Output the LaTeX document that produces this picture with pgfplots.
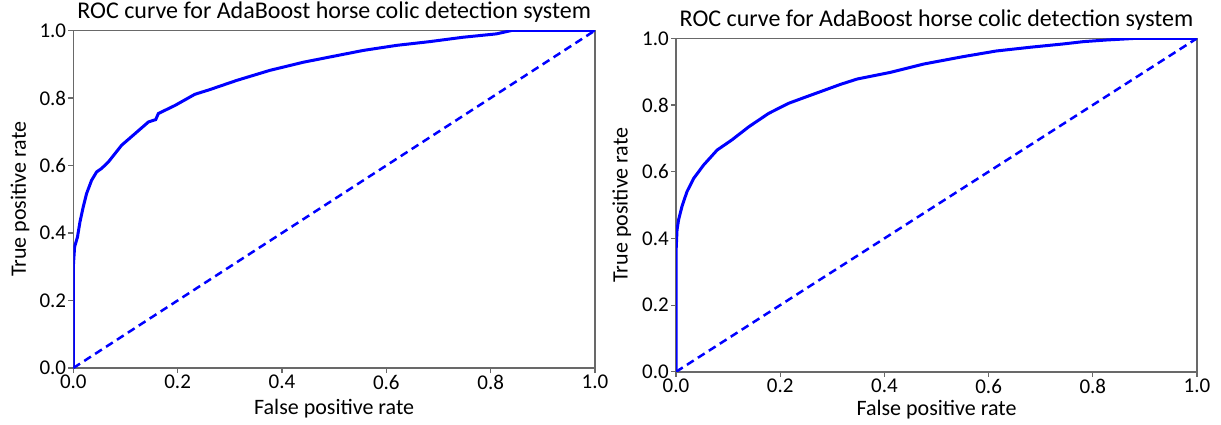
\documentclass[border=0pt]{standalone}
\usepackage{fontspec}
\setmainfont{Carlito}
\usepackage{pgfplots}
\pgfplotsset{compat=1.18}
\definecolor{framegray}{RGB}{105,105,105}
\definecolor{rocblue}{RGB}{0,0,255}

\pgfplotsset{
  rocaxis/.style={
    scale only axis,
    anchor=south west,
    xmin=0,xmax=1,ymin=0,ymax=1,
    xtick={0,0.2,...,1.0},
    ytick={0,0.2,...,1.0},
    xticklabel style={/pgf/number format/.cd,fixed,fixed zerofill,precision=1},
    yticklabel style={/pgf/number format/.cd,fixed,fixed zerofill,precision=1},
    /pgf/number format/assume math mode=true,
    tick align=outside,
    major tick length=5pt,
    xtick pos=bottom, ytick pos=left,
    axis line style={framegray,line width=1.5pt},
    every tick/.style={framegray,line width=1.2pt},
    tick label style={font=\fontsize{21}{25}\selectfont,inner sep=2pt},
    label style={font=\fontsize{22}{26}\selectfont},
    title style={font=\fontsize{24}{28}\selectfont,inner sep=2pt},
    title={ROC curve for AdaBoost horse colic detection system},
    xlabel={False positive rate},
    ylabel={True positive rate},
  }
}

\begin{document}
\begin{tikzpicture}
\useasboundingbox (0pt,0pt) rectangle (1221pt,424pt);

\begin{axis}[rocaxis,
  at={(73.3pt,56pt)}, width=521.7pt, height=337.5pt,
  xlabel style={at={(axis description cs:0.5,-0.121)},anchor=center},
  ylabel style={at={(axis description cs:-0.102,0.5)},anchor=center},
]
\addplot[rocblue,line width=3pt] coordinates {
  (0,0) (0,0.30) (0.0025,0.359) (0.008,0.388) (0.0128,0.433) (0.019,0.477)
  (0.0255,0.517) (0.035,0.556) (0.0447,0.581) (0.054,0.591) (0.067,0.610)
  (0.0926,0.660) (0.118,0.694) (0.144,0.729) (0.158,0.736) (0.163,0.754)
  (0.195,0.778) (0.233,0.811) (0.26,0.824) (0.313,0.852) (0.377,0.882)
  (0.441,0.906) (0.50,0.924) (0.556,0.941) (0.620,0.956) (0.683,0.967)
  (0.747,0.980) (0.811,0.990) (0.84,1.0) (1,1)
};
\addplot[rocblue,line width=2.5pt,dash pattern=on 8pt off 5pt] coordinates {(0,0) (1,1)};
\end{axis}

\begin{axis}[rocaxis,
  at={(676pt,52.2pt)}, width=521pt, height=333.5pt,
  xlabel style={at={(axis description cs:0.5,-0.114)},anchor=center},
  ylabel style={at={(axis description cs:-0.104,0.5)},anchor=center},
]
\addplot[rocblue,line width=3pt] coordinates {
  (0,0) (0,0.356) (0.002,0.426) (0.005,0.456) (0.0115,0.496) (0.021,0.540)
  (0.034,0.580) (0.053,0.620) (0.079,0.665) (0.107,0.695) (0.140,0.735)
  (0.178,0.775) (0.216,0.805) (0.242,0.820) (0.316,0.862) (0.348,0.878)
  (0.412,0.898) (0.476,0.923) (0.551,0.945) (0.615,0.962) (0.679,0.973)
  (0.743,0.983) (0.782,0.990) (0.827,0.995) (0.884,1.0) (1,1)
};
\addplot[rocblue,line width=2.5pt,dash pattern=on 8pt off 5pt] coordinates {(0,0) (1,1)};
\end{axis}
\end{tikzpicture}
\end{document}
